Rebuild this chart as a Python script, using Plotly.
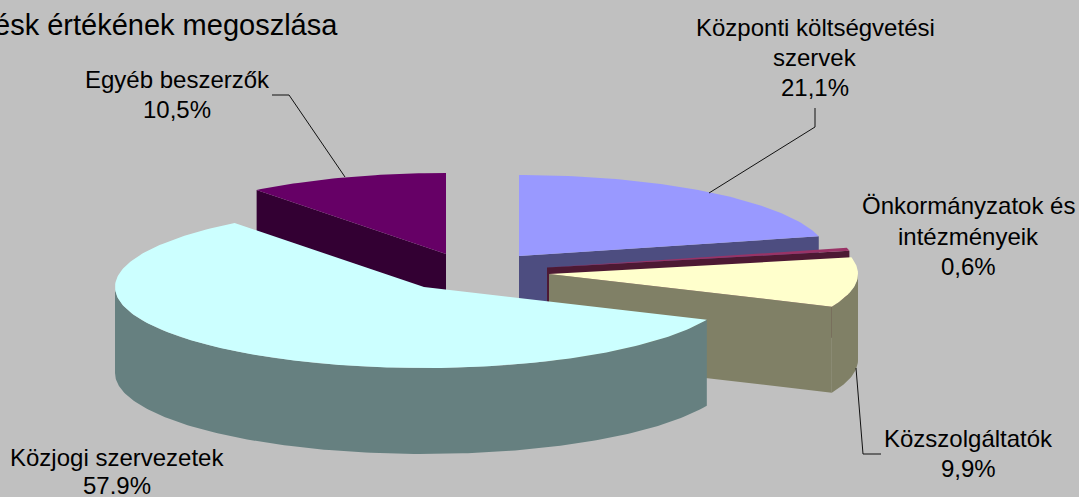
import math
import plotly.graph_objects as go

# ---- data ----
categories = ["Központi költségvetési szervek", "Önkormányzatok és intézményeik",
              "Közszolgáltatók", "Közjogi szervezetek", "Egyéb beszerzők"]
values = [21.1, 0.6, 9.9, 57.9, 10.5]
value_labels = ["21,1%", "0,6%", "9,9%", "57.9%", "10,5%"]
title_text = "ésk értékének megoszlása"

# ---- styling / layout ----
BG = "#c0c0c0"
top_colors = ["#9999ff", "#993366", "#ffffcc", "#ccffff", "#660066"]
side_colors = ["#4d4d80", "#4d1933", "#808066", "#668080", "#330033"]
apexes = [(519, 256), (547, 267.5), (549, 274), (424, 287), (446, 254)]
RX, RY, DEPTH = 309, 81, 86
draw_order = [0, 4, 1, 2, 3]
label_lines = [
    [("Központi költségvetési", 815, 27), ("szervek", 815, 57), (value_labels[0], 815, 87)],
    [("Önkormányzatok és", 968, 205), ("intézményeik", 968, 236), (value_labels[1], 968, 266)],
    [("Közszolgáltatók", 968, 438), (value_labels[2], 968, 468)],
    [("Közjogi szervezetek", 117, 457), (value_labels[3], 117, 485)],
    [("Egyéb beszerzők", 177, 79), (value_labels[4], 177, 109)],
]
leaders = [
    [(815, 108), (815, 127), (709, 193)],
    [(881, 454), (863, 454), (856, 368)],
    [(272, 95), (289, 95), (345, 177)],
]


def rim_point(apex, deg):
    t = math.radians(deg)
    return apex[0] + RX * math.sin(t), apex[1] - RY * math.cos(t)


def arc(apex, a, b, step=1.0):
    n = max(2, int(abs(b - a) / step) + 1)
    return [rim_point(apex, a + (b - a) * i / (n - 1)) for i in range(n)]


def poly(fig, pts, color):
    xs = [p[0] for p in pts] + [pts[0][0]]
    ys = [p[1] for p in pts] + [pts[0][1]]
    fig.add_trace(go.Scatter(x=xs, y=ys, mode="lines", fill="toself", fillcolor=color,
                             line=dict(width=0, color=color), hoverinfo="skip", showlegend=False))


def down(pts):
    return [(x, y + DEPTH) for x, y in pts]


total = sum(values)
bounds = [0.0]
for v in values:
    bounds.append(bounds[-1] + v / total * 360.0)

fig = go.Figure()
for i in draw_order:
    a, b = bounds[i], bounds[i + 1]
    apex = apexes[i]
    # visible cut faces: the end edge when it points right/front, the start edge on the left
    if b < 180:
        edge = [apex, rim_point(apex, b)]
        poly(fig, edge + down(edge)[::-1], side_colors[i])
    if a > 180:
        edge = [apex, rim_point(apex, a)]
        poly(fig, edge + down(edge)[::-1], side_colors[i])
    # visible part of the outer wall (front half of the ellipse)
    lo, hi = max(a, 90), min(b, 270)
    if hi > lo:
        wall = arc(apex, lo, hi)
        poly(fig, wall + down(wall)[::-1], side_colors[i])
    poly(fig, [apex] + arc(apex, a, b), top_colors[i])

for line in leaders:
    fig.add_trace(go.Scatter(x=[p[0] for p in line], y=[p[1] for p in line], mode="lines",
                             line=dict(color="#111111", width=1), hoverinfo="skip", showlegend=False))

annotations = []
for lines in label_lines:
    for text, x, y in lines:
        annotations.append(dict(x=x, y=y, text=text, showarrow=False, xanchor="center", yanchor="middle",
                                font=dict(family="Liberation Sans, Arial", size=24, color="#000000")))
annotations.append(dict(x=340, y=25, text=title_text, showarrow=False, xanchor="right", yanchor="middle",
                        font=dict(family="Liberation Sans, Arial", size=29, color="#000000")))

fig.update_layout(
    width=1079, height=497, margin=dict(l=0, r=0, t=0, b=0),
    paper_bgcolor=BG, plot_bgcolor=BG, showlegend=False, annotations=annotations,
    xaxis=dict(range=[0, 1079], visible=False, fixedrange=True),
    yaxis=dict(range=[497, 0], visible=False, fixedrange=True),
)
fig.write_html("out.html", config={"displayModeBar": False},
               post_script="document.body.style.margin='0';document.body.style.background='#c0c0c0';")
